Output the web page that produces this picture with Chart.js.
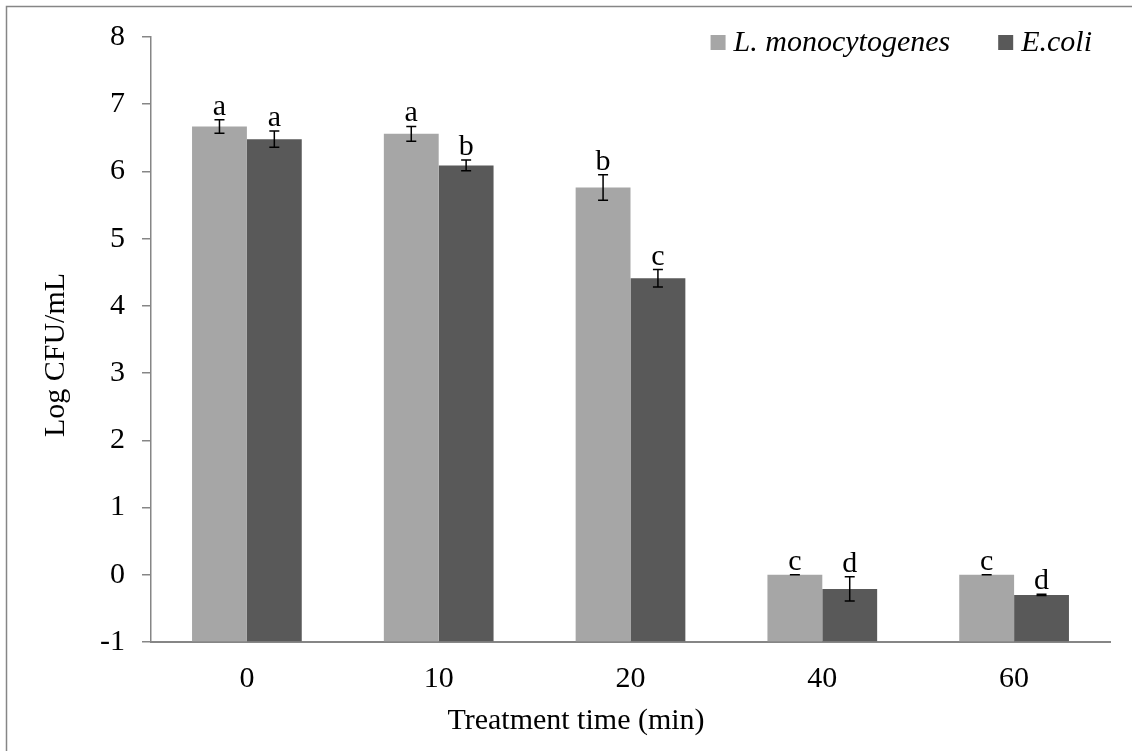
<!DOCTYPE html>
<html>
<head>
<meta charset="utf-8">
<script src="https://cdn.jsdelivr.net/npm/chart.js@4.4.1/dist/chart.umd.min.js"></script>
<style>
  html, body { margin: 0; padding: 0; background: #fff; }
  #wrap { position: relative; width: 1132px; height: 751px; }
</style>
</head>
<body>
<div id="wrap"><canvas id="chart" width="1132" height="751"></canvas></div>
<script>
const categories = ["0", "10", "20", "40", "60"];
const seriesNames = ["L. monocytogenes", "E.coli"];

const listeriaMeans = [6.67, 6.56, 5.76, 0, 0];
const listeriaErrors = [0.10, 0.11, 0.19, 0, 0];
const listeriaLetters = ["a", "a", "b", "c", "c"];

const ecoliMeans = [6.48, 6.09, 4.41, -0.21, -0.30];
const ecoliErrors = [0.12, 0.08, 0.13, 0.18, 0.01];
const ecoliLetters = ["a", "b", "c", "d", "d"];

const yMin = -1;
const yMax = 8;
const xTitle = "Treatment time (min)";
const yTitle = "Log CFU/mL";

const serif = '"Liberation Serif", "Times New Roman", serif';
Chart.defaults.font.family = serif;
Chart.defaults.color = "#000";

const errors = [listeriaErrors, ecoliErrors];
const letters = [listeriaLetters, ecoliLetters];

// error bars + significance letters
const errorBars = {
  id: "errorBars",
  afterDatasetsDraw(chart) {
    const { ctx, scales: { y } } = chart;
    ctx.save();
    ctx.strokeStyle = "#000";
    ctx.lineWidth = 1.5;
    ctx.fillStyle = "#000";
    ctx.font = "30px " + serif;
    ctx.textAlign = "center";
    ctx.textBaseline = "alphabetic";
    chart.data.datasets.forEach((ds, i) => {
      chart.getDatasetMeta(i).data.forEach((bar, j) => {
        const v = ds.data[j];
        const e = errors[i][j];
        const top = y.getPixelForValue(v + e);
        const bot = y.getPixelForValue(v - e);
        ctx.beginPath();
        ctx.moveTo(bar.x, top);
        ctx.lineTo(bar.x, bot);
        ctx.moveTo(bar.x - 5, top);
        ctx.lineTo(bar.x + 5, top);
        ctx.moveTo(bar.x - 5, bot);
        ctx.lineTo(bar.x + 5, bot);
        ctx.stroke();
        ctx.fillText(letters[i][j], bar.x, top - 5);
      });
    });
    ctx.restore();
  }
};

// frame, axis titles and legend drawn the way the spreadsheet placed them
const decorations = {
  id: "decorations",
  afterDraw(chart) {
    const { ctx, chartArea } = chart;
    ctx.save();
    ctx.strokeStyle = "#868686";
    ctx.lineWidth = 1.5;
    ctx.beginPath();
    ctx.moveTo(6.5, 751);
    ctx.lineTo(6.5, 6.5);
    ctx.lineTo(1132, 6.5);
    ctx.stroke();

    ctx.fillStyle = "#000";
    ctx.font = "30px " + serif;
    ctx.textAlign = "center";
    ctx.textBaseline = "middle";
    ctx.fillText(xTitle, 576, 721);
    ctx.save();
    ctx.translate(56, 355);
    ctx.rotate(-Math.PI / 2);
    ctx.fillText(yTitle, 0, 0);
    ctx.restore();

    // legend
    ctx.font = "italic 30px " + serif;
    ctx.textAlign = "left";
    ctx.textBaseline = "alphabetic";
    const box = 15, gap = 8, itemGap = 48;
    const items = chart.data.datasets.map(ds => ({
      label: ds.label,
      color: ds.backgroundColor,
      w: box + gap + ctx.measureText(ds.label).width
    }));
    const total = items.reduce((s, it) => s + it.w, 0) + itemGap * (items.length - 1);
    let x = chartArea.right - 18 - total;
    items.forEach(it => {
      ctx.fillStyle = it.color;
      ctx.fillRect(x, 35, box, box);
      ctx.fillStyle = "#000";
      ctx.fillText(it.label, x + box + gap, 50.5);
      x += it.w + itemGap;
    });
    ctx.restore();
  }
};

new Chart(document.getElementById("chart"), {
  type: "bar",
  data: {
    labels: categories,
    datasets: [
      {
        label: seriesNames[0],
        data: listeriaMeans,
        backgroundColor: "#A6A6A6",
        base: yMin,
        categoryPercentage: 0.572,
        barPercentage: 1
      },
      {
        label: seriesNames[1],
        data: ecoliMeans,
        backgroundColor: "#595959",
        base: yMin,
        categoryPercentage: 0.572,
        barPercentage: 1
      }
    ]
  },
  options: {
    responsive: false,
    animation: false,
    devicePixelRatio: 1,
    layout: { padding: { top: 37, right: 22, left: 0, bottom: 0 } },
    plugins: {
      legend: { display: false },
      tooltip: { enabled: false }
    },
    scales: {
      x: {
        grid: { display: false, drawTicks: false },
        border: { color: "#868686", width: 2 },
        ticks: { padding: 19, font: { size: 30 }, color: "#000" },
        afterFit: (s) => { s.height = 109; }
      },
      y: {
        min: yMin,
        max: yMax,
        grid: { drawOnChartArea: false, drawTicks: true, tickLength: 9, color: "#868686", lineWidth: 1.5 },
        border: { color: "#868686", width: 1.5 },
        ticks: { stepSize: 1, padding: 17, font: { size: 30 }, color: "#000" },
        afterFit: (s) => { s.width = 151; }
      }
    }
  },
  plugins: [errorBars, decorations]
});
</script>
</body>
</html>
